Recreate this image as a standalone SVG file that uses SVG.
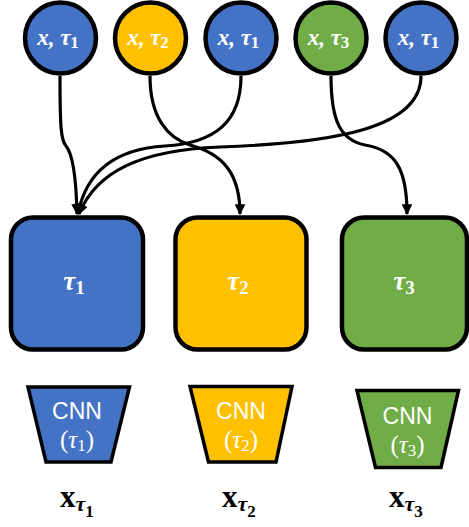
<svg xmlns="http://www.w3.org/2000/svg" width="469" height="527" viewBox="0 0 469 527">
<defs>
<marker id="ah" viewBox="0 0 10 10" refX="9" refY="5" markerWidth="3.4" markerHeight="3.4" orient="auto" markerUnits="strokeWidth">
<path d="M0,0 L10,5 L0,10 Z" fill="#000"/>
</marker>
<style>
.blue{fill:#4472C4}.yellow{fill:#FFC000}.green{fill:#70AD47}
.node{stroke:#000;stroke-width:4.5}
.trap{stroke:#000;stroke-width:3.5}
.edge{fill:none;stroke:#000;stroke-width:3.2;marker-end:url(#ah)}
.m{font-family:"Liberation Serif","DejaVu Serif",serif;fill:#fff;font-weight:bold;font-style:italic}
.sub{font-style:normal}
.cnn{font-family:"Liberation Sans",Arial,sans-serif;fill:#fff;font-size:23px}
.cm{font-family:"Liberation Serif","DejaVu Serif",serif;fill:#fff;font-size:25px}
.lab{font-family:"Liberation Serif","DejaVu Serif",serif;fill:#000;font-weight:bold}
</style>
</defs>
<g id="connectors">
<path class="edge" d="M60,76 C60,128 61,140 66,146 C72,153 76,170 77,214"/>
<path class="edge" d="M150,76 C150,118 168,138 190,145 C224,154 240,175 240,214"/>
<path class="edge" d="M241,76 C241,122 215,143 165,146 C115,149 86,172 78,214"/>
<path class="edge" d="M331,76 C331,120 340,140 365,145 C396,150 407,170 407,214"/>
<path class="edge" d="M421,76 C421,128 335,143 220,147 C140,150 96,172 79,214"/>
</g>
<g id="in1"><circle class="node blue" cx="60.5" cy="38" r="35.5"/><text class="m" x="58" y="45" font-size="23" text-anchor="middle">x, τ<tspan class="sub" font-size="17" dy="3">1</tspan></text></g>
<g id="in2"><circle class="node yellow" cx="150.5" cy="38" r="35.5"/><text class="m" x="148" y="45" font-size="23" text-anchor="middle">x, τ<tspan class="sub" font-size="17" dy="3">2</tspan></text></g>
<g id="in3"><circle class="node blue" cx="241" cy="38" r="35.5"/><text class="m" x="238.5" y="45" font-size="23" text-anchor="middle">x, τ<tspan class="sub" font-size="17" dy="3">1</tspan></text></g>
<g id="in4"><circle class="node green" cx="331" cy="38" r="35.5"/><text class="m" x="328.5" y="45" font-size="23" text-anchor="middle">x, τ<tspan class="sub" font-size="17" dy="3">3</tspan></text></g>
<g id="in5"><circle class="node blue" cx="421" cy="38" r="35.5"/><text class="m" x="418.5" y="45" font-size="23" text-anchor="middle">x, τ<tspan class="sub" font-size="17" dy="3">1</tspan></text></g>
<g id="task1"><rect class="node blue" x="11" y="217.5" width="132" height="132" rx="22"/><text class="m" x="74" y="290" font-size="27" text-anchor="middle">τ<tspan class="sub" font-size="19" dy="4">1</tspan></text></g>
<g id="task2"><rect class="node yellow" x="175.5" y="217.5" width="131" height="132" rx="22"/><text class="m" x="238" y="290" font-size="27" text-anchor="middle">τ<tspan class="sub" font-size="19" dy="4">2</tspan></text></g>
<g id="task3"><rect class="node green" x="342" y="217.5" width="125" height="132" rx="22"/><text class="m" x="404" y="290" font-size="27" text-anchor="middle">τ<tspan class="sub" font-size="19" dy="4">3</tspan></text></g>
<g id="cnn1"><polygon class="trap blue" points="28,387 129.5,387 111,462 46,462"/><text class="cnn" x="77" y="419" text-anchor="middle">CNN</text><text class="cm" x="77" y="448" text-anchor="middle">(<tspan font-style="italic">τ</tspan><tspan font-size="17" dy="3">1</tspan><tspan dy="-3">)</tspan></text></g>
<g id="cnn2"><polygon class="trap yellow" points="190,386.5 292,386.5 276,462 208.5,462"/><text class="cnn" x="241" y="419" text-anchor="middle">CNN</text><text class="cm" x="241" y="448" text-anchor="middle">(<tspan font-style="italic">τ</tspan><tspan font-size="17" dy="3">2</tspan><tspan dy="-3">)</tspan></text></g>
<g id="cnn3"><polygon class="trap green" points="357,390.5 458.5,390.5 441,467.5 375.5,467.5"/><text class="cnn" x="407.5" y="424" text-anchor="middle">CNN</text><text class="cm" x="407.5" y="453" text-anchor="middle">(<tspan font-style="italic">τ</tspan><tspan font-size="17" dy="3">3</tspan><tspan dy="-3">)</tspan></text></g>
<g id="out1"><text class="lab" x="60" y="507" font-size="31">x<tspan font-style="italic" font-size="22" dy="4">τ</tspan><tspan font-size="17" dy="6">1</tspan></text></g>
<g id="out2"><text class="lab" x="222" y="507" font-size="31">x<tspan font-style="italic" font-size="22" dy="4">τ</tspan><tspan font-size="17" dy="6">2</tspan></text></g>
<g id="out3"><text class="lab" x="389" y="507" font-size="31">x<tspan font-style="italic" font-size="22" dy="4">τ</tspan><tspan font-size="17" dy="6">3</tspan></text></g>
</svg>
